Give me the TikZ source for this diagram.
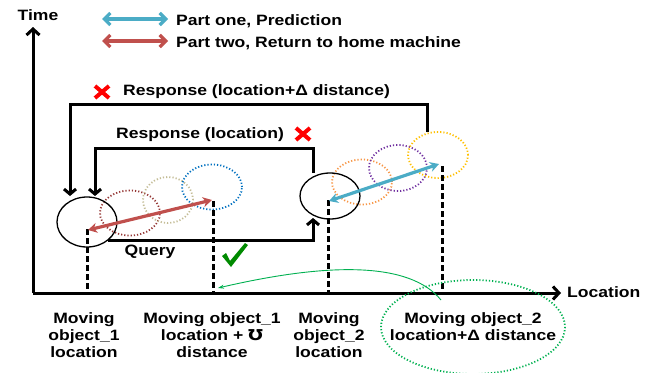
\documentclass[tikz,border=0pt]{standalone}
\usepackage{fontspec}
\setmainfont{Liberation Sans}[FakeStretch=1.17]
\newfontfamily\symfont{DejaVu Sans}[FakeStretch=1.17]
\usetikzlibrary{arrows.meta,shapes.geometric}
\definecolor{predcyan}{HTML}{4BACC6}
\definecolor{retred}{HTML}{C0504D}
\definecolor{dred}{HTML}{953735}
\definecolor{tanc}{HTML}{C4BD97}
\definecolor{bluec}{HTML}{0070C0}
\definecolor{orangec}{HTML}{F79646}
\definecolor{purplec}{HTML}{7030A0}
\definecolor{yellowc}{HTML}{FFC000}
\definecolor{greenc}{HTML}{00B050}
\definecolor{checkc}{HTML}{008A00}
\begin{document}
\begin{tikzpicture}[x=1pt,y=-1pt,
  lbl/.style={font=\fontsize{15}{17}\selectfont\bfseries, align=center, inner sep=0pt},
  axisline/.style={line width=3pt, -{Straight Barb[length=6pt,width=13pt]}},
  route/.style={line width=3pt, -{Straight Barb[length=5pt,width=12pt]}},
  dropline/.style={line width=3pt, dash pattern=on 6pt off 3pt},
  objring/.style={draw, ellipse, line width=1.3pt, inner sep=0pt},
  trail/.style={draw=#1, ellipse, line width=1.8pt, dash pattern=on 1.2pt off 2pt, inner sep=0pt, minimum width=60pt, minimum height=45pt},
  legarrow/.style={draw=#1, line width=3.2pt, {Straight Barb[length=6pt,width=12pt]}-{Straight Barb[length=6pt,width=12pt]}},
  movearrow/.style={draw=#1, line width=3.2pt, {Stealth[length=9pt,width=10pt]}-{Stealth[length=9pt,width=10pt]}},
  redx/.style={draw=red, line width=4pt}
]
\useasboundingbox (0,0) rectangle (660,372);

% axes
\coordinate (o) at (33,293);
\coordinate (ttip) at (33,27);
\coordinate (ltip) at (561,293);
\draw[axisline] (o) -- (ttip);
\draw[axisline] (o) -- (ltip);
\node[lbl, anchor=center] (tlab) at (38,15) {Time};
\node[lbl, anchor=west] (llab) at (567,292) {Location};

% legend
\coordinate (la1) at (102,19);
\coordinate (lb1) at (168,19);
\coordinate (la2) at (102,41);
\coordinate (lb2) at (168,41);
\draw[legarrow=predcyan] (la1) -- (lb1);
\draw[legarrow=retred] (la2) -- (lb2);
\node[lbl, anchor=west] (leg1) at (176,21) {Part one, Prediction};
\node[lbl, anchor=west] (leg2) at (176,43) {Part two, Return to home machine};

% trail of positions, object 1
\node[trail=dred] (p1) at (130,213) {};
\node[trail=tanc, minimum width=50pt, minimum height=46pt] (p2) at (168,200) {};
\node[trail=bluec] (p3) at (212,187) {};
% trail of positions, object 2
\node[trail=orangec] (q1) at (362,182) {};
\node[trail=purplec, minimum width=58pt, minimum height=46pt] (q2) at (398,168) {};
\node[trail=yellowc, minimum height=46pt] (q3) at (438,155) {};

% home locations
\node[objring, minimum width=60pt, minimum height=50pt] (home1) at (87,222) {};
\node[objring, minimum width=60pt, minimum height=46pt] (home2) at (330,196) {};

% drop lines to the location axis
\coordinate (d1t) at (87,229);   \coordinate (d1b) at (87,293);
\coordinate (d2t) at (213,201);  \coordinate (d2b) at (213,293);
\coordinate (d3t) at (328,200);  \coordinate (d3b) at (328,293);
\coordinate (d4t) at (442,166);  \coordinate (d4b) at (442,293);
\draw[dropline] (d1t) -- (d1b);
\draw[dropline] (d2t) -- (d2b);
\draw[dropline] (d3t) -- (d3b);
\draw[dropline] (d4t) -- (d4b);

% movement arrows
\coordinate (r1) at (88,230);
\coordinate (r2) at (212,200);
\coordinate (c1) at (329,201);
\coordinate (c2) at (439,164);
\draw[movearrow=retred] (r1) -- (r2);
\draw[movearrow=predcyan] (c1) -- (c2);

% response paths
\coordinate (oa) at (427,132);
\coordinate (ob) at (427,104);
\coordinate (oc) at (70,104);
\coordinate (od) at (70,196);
\draw[route] (oa) -- (ob) -- (oc) -- (od);
\coordinate (ia) at (313,173);
\coordinate (ib) at (313,148);
\coordinate (ic) at (95,148);
\coordinate (id) at (95,196);
\draw[route] (ia) -- (ib) -- (ic) -- (id);

% query path
\coordinate (qa) at (108,240);
\coordinate (qb) at (313,240);
\coordinate (qc) at (313,218);
\draw[route] (qa) -- (qb) -- (qc);

% labels on the paths
\node[lbl, anchor=west] (resp2) at (123,92) {Response (location+Δ distance)};
\node[lbl, anchor=west] (resp1) at (116,135) {Response (location)};
\node[lbl] (qlab) at (150,252) {Query};
\node[inner sep=0pt] (x1) at (102,92) {};
\draw[redx] ([shift={(-7,-6)}]x1.center) -- ([shift={(7,6)}]x1.center);
\draw[redx] ([shift={(-7,6)}]x1.center) -- ([shift={(7,-6)}]x1.center);
\node[inner sep=0pt] (x2) at (303,134) {};
\draw[redx] ([shift={(-7,-6)}]x2.center) -- ([shift={(7,6)}]x2.center);
\draw[redx] ([shift={(-7,6)}]x2.center) -- ([shift={(7,-6)}]x2.center);
% accepted query
\node[inner sep=0pt, minimum size=24pt] (ok) at (235,255) {};
\fill[checkc] ([shift={(-13,1)}]ok.center) -- ([shift={(-9,-2)}]ok.center)
  -- ([shift={(-5,6)}]ok.center) -- ([shift={(10,-12)}]ok.center)
  -- ([shift={(13,-10)}]ok.center) -- ([shift={(-4,12)}]ok.center) -- cycle;

% axis labels
\node[lbl] (m1) at (84,335) {Moving\\object\_1\\location};
\node[lbl] (m2) at (212,335) {Moving object\_1\\location + {\symfont\bfseries ℧}\\distance};
\node[lbl] (m3) at (329,335) {Moving\\object\_2\\location};
\node[lbl] (m4) at (473,327) {Moving object\_2\\location+Δ distance};
\draw[greenc, line width=1.8pt, dash pattern=on 1.2pt off 2pt] (m4.center) ellipse [x radius=92, y radius=47];

% pointer from the highlighted label
\coordinate (gs) at (441,300);
\coordinate (ge) at (218,288);
\draw[greenc, line width=0.9pt, -{Stealth[length=6pt,width=4pt]}] (gs) .. controls (410,262) and (330,262) .. (ge);
\end{tikzpicture}
\end{document}
